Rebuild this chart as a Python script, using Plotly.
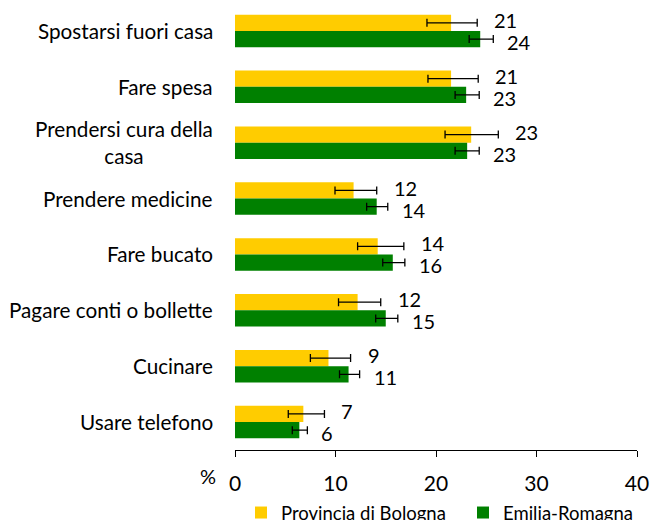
import plotly.graph_objects as go

categories = ["Spostarsi fuori casa", "Fare spesa", "Prendersi cura della<br>casa",
              "Prendere medicine", "Fare bucato", "Pagare conti o bollette",
              "Cucinare", "Usare telefono"]
prov = [21.5, 21.5, 23.5, 11.8, 14.2, 12.2, 9.3, 6.8]
prov_lo = [19.1, 19.2, 20.9, 9.95, 12.2, 10.3, 7.5, 5.3]
prov_hi = [24.1, 24.2, 26.2, 14.1, 16.8, 14.5, 11.5, 8.9]
prov_lbl = [21, 21, 23, 12, 14, 12, 9, 7]
emr = [24.4, 23.0, 23.1, 14.1, 15.7, 15.0, 11.3, 6.4]
emr_lo = [23.3, 21.9, 21.9, 13.1, 14.7, 14.0, 10.4, 5.7]
emr_hi = [25.7, 24.3, 24.3, 15.2, 16.9, 16.2, 12.4, 7.2]
emr_lbl = [24, 23, 23, 14, 16, 15, 11, 6]
x_ticks = [0, 10, 20, 30, 40]

FONT = "Lato, Carlito, Calibri, sans-serif"
idx = list(range(len(categories)))

fig = go.Figure()
fig.add_trace(go.Bar(
    y=idx, x=prov, orientation="h", name="Provincia di Bologna", legend="legend",
    marker=dict(color="#FFCC00", line=dict(width=0)),
    error_x=dict(type="data", symmetric=False,
                 array=[h - v for h, v in zip(prov_hi, prov)],
                 arrayminus=[v - l for v, l in zip(prov, prov_lo)],
                 color="black", thickness=1.3, width=4),
))
fig.add_trace(go.Bar(
    y=idx, x=emr, orientation="h", name="Emilia-Romagna", legend="legend2",
    marker=dict(color="#008000", line=dict(width=0)),
    error_x=dict(type="data", symmetric=False,
                 array=[h - v for h, v in zip(emr_hi, emr)],
                 arrayminus=[v - l for v, l in zip(emr, emr_lo)],
                 color="black", thickness=1.3, width=4),
))

anns = []
for i in idx:
    anns.append(dict(x=prov_hi[i], y=i, xref="x", yref="y", text=str(prov_lbl[i]),
                     showarrow=False, xanchor="left", yanchor="middle",
                     xshift=15, yshift=11, font=dict(size=20, color="black", family=FONT)))
    anns.append(dict(x=emr_hi[i], y=i, xref="x", yref="y", text=str(emr_lbl[i]),
                     showarrow=False, xanchor="left", yanchor="middle",
                     xshift=12, yshift=-11, font=dict(size=20, color="black", family=FONT)))
    anns.append(dict(x=0, y=i, xref="paper", yref="y", text=categories[i],
                     showarrow=False, xanchor="right", yanchor="middle", align="center",
                     xshift=-20, font=dict(size=20.7, color="black", family=FONT)))
anns.append(dict(x=0, y=0, xref="paper", yref="paper", text="%", showarrow=False,
                 xanchor="right", yanchor="top", xshift=-17, yshift=-12,
                 font=dict(size=20, color="black", family=FONT)))

leg_common = dict(orientation="h", xref="container", xanchor="left",
                  y=0.05, yref="container", yanchor="top",
                  font=dict(size=18.5, family=FONT), itemwidth=30,
                  bgcolor="rgba(0,0,0,0)")

fig.update_layout(
    width=650, height=520,
    margin=dict(l=235, r=13, t=3, b=70, autoexpand=False),
    paper_bgcolor="white", plot_bgcolor="white",
    barmode="group", bargap=0.42, bargroupgap=0,
    font=dict(family=FONT, color="black"),
    showlegend=True,
    legend=dict(x=241 / 650, **leg_common),
    legend2=dict(x=463 / 650, **leg_common),
    annotations=anns,
    xaxis=dict(range=[0, 40], tickvals=x_ticks, showgrid=False, zeroline=False,
               showline=True, linecolor="black", linewidth=1,
               ticks="outside", ticklen=6, tickcolor="black",
               tickfont=dict(size=21, family=FONT), ticklabelstandoff=9),
    yaxis=dict(tickvals=idx, showticklabels=False, autorange="reversed",
               showgrid=False, zeroline=False, showline=False),
)

fig.write_html("out.html", config={"displayModeBar": False},
               post_script="document.body.style.margin='0';")
